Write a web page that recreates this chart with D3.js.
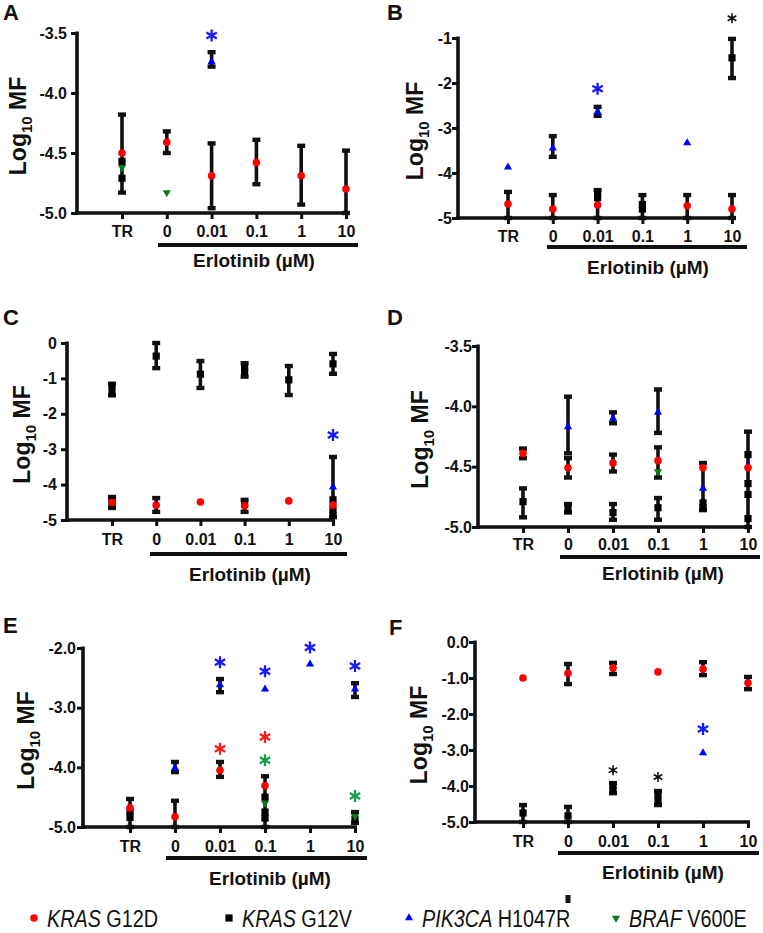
<!DOCTYPE html>
<html><head><meta charset="utf-8">
<script src="https://cdn.jsdelivr.net/npm/d3@7"></script>
<style>
body{margin:0;background:#fff}
svg{display:block}
text{font-family:"Liberation Sans",Arial,Helvetica,sans-serif}
</style>
</head><body>
<svg id="chart" width="763" height="933"></svg>
<script>
// ---------------- data ----------------
const categories = ["TR", "0", "0.01", "0.1", "1", "10"];
const seriesKeys = ["G12D", "G12V", "PIK3CA", "BRAF"];
const seriesGene = ["KRAS", "KRAS", "PIK3CA", "BRAF"];
const seriesMut = [" G12D", " G12V", " H1047R", " V600E"];
const seriesColors = {G12D: "#ff0000", G12V: "#000000", PIK3CA: "#0000ff", BRAF: "#0b7a1e"};
const starColors = {G12D: "#ff1a1a", G12V: "#111111", PIK3CA: "#1a1aff", BRAF: "#12a04a"};
const xTitle = "Erlotinib (\u00b5M)";

// Panel A
const yTicksA = [-5, -4.5, -4, -3.5];
const barsA = [["TR", -4.18, -4.83], ["0", -4.32, -4.50], ["0.01", -3.66, -3.78], ["0.01", -4.42, -4.96],
  ["0.1", -4.39, -4.76], ["1", -4.44, -4.93], ["10", -4.48, -5.0]];
const pointsA = [["TR", "G12V", -4.57], ["TR", "G12V", -4.71], ["TR", "BRAF", -4.62], ["TR", "G12D", -4.5],
  ["0", "G12D", -4.41], ["0", "BRAF", -4.83], ["0.01", "PIK3CA", -3.74], ["0.01", "G12D", -4.69],
  ["0.1", "G12D", -4.58], ["1", "G12D", -4.69], ["10", "G12D", -4.8]];
const starsA = [["0.01", "PIK3CA", -3.52]];

// Panel B
const yTicksB = [-5, -4, -3, -2, -1];
const barsB = [["TR", -4.42, -5], ["0", -3.18, -3.64], ["0", -4.49, -5], ["0.01", -2.53, -2.73], ["0.01", -4.38, -5],
  ["0.1", -4.49, -5], ["1", -4.49, -5], ["10", -1.02, -1.89], ["10", -4.49, -5]];
const pointsB = [["TR", "PIK3CA", -3.87], ["TR", "G12D", -4.69], ["0", "PIK3CA", -3.45], ["0", "G12D", -4.8],
  ["0.01", "PIK3CA", -2.64], ["0.01", "G12V", -4.45], ["0.01", "G12V", -4.55], ["0.01", "G12D", -4.71],
  ["0.1", "G12V", -4.7], ["0.1", "G12V", -4.8], ["1", "PIK3CA", -3.33], ["1", "G12D", -4.73],
  ["10", "G12V", -1.44], ["10", "G12D", -4.8]];
const starsB = [["0.01", "PIK3CA", -2.13], ["10", "G12V", -0.56]];

// Panel C
const yTicksC = [-5, -4, -3, -2, -1, 0];
const barsC = [["TR", -1.15, -1.48], ["TR", -4.35, -4.66], ["0", 0, -0.71], ["0", -4.38, -4.77],
  ["0.01", -0.51, -1.27], ["0.1", -0.57, -0.95], ["0.1", -4.43, -4.77], ["1", -0.65, -1.47],
  ["10", -0.31, -0.87], ["10", -3.22, -4.92]];
const pointsC = [["TR", "G12V", -1.22], ["TR", "G12V", -1.4], ["TR", "G12V", -4.45], ["TR", "G12V", -4.56], ["TR", "G12D", -4.5],
  ["0", "G12V", -0.37], ["0", "G12D", -4.58], ["0.01", "G12V", -0.88], ["0.01", "G12D", -4.49],
  ["0.1", "G12V", -0.7], ["0.1", "G12V", -0.82], ["0.1", "G12V", -4.55], ["0.1", "G12D", -4.6],
  ["1", "G12V", -1.04], ["1", "G12D", -4.46], ["10", "G12V", -0.59], ["10", "PIK3CA", -4.07],
  ["10", "G12V", -4.43], ["10", "G12V", -4.72], ["10", "G12V", -4.86], ["10", "G12D", -4.58]];
const starsC = [["10", "PIK3CA", -2.6]];

// Panel D
const yTicksD = [-5, -4.5, -4, -3.5];
const barsD = [["TR", -4.35, -4.43], ["TR", -4.68, -4.92], ["0", -3.92, -4.39], ["0", -4.43, -4.59], ["0", -4.81, -4.88],
  ["0.01", -4.05, -4.14], ["0.01", -4.40, -4.54], ["0.01", -4.81, -4.94], ["0.1", -3.86, -4.22],
  ["0.1", -4.34, -4.59], ["0.1", -4.76, -4.94], ["1", -4.47, -4.86], ["10", -4.21, -5.0]];
const pointsD = [["TR", "G12V", -4.79], ["TR", "G12D", -4.39], ["0", "PIK3CA", -4.17], ["0", "G12V", -4.85],
  ["0", "G12D", -4.51], ["0.01", "PIK3CA", -4.10], ["0.01", "G12V", -4.88], ["0.01", "G12D", -4.47],
  ["0.1", "PIK3CA", -4.05], ["0.1", "G12V", -4.84], ["0.1", "BRAF", -4.54], ["0.1", "G12D", -4.45],
  ["1", "G12V", -4.80], ["1", "G12V", -4.84], ["1", "PIK3CA", -4.68], ["1", "G12D", -4.51],
  ["10", "G12V", -4.4], ["10", "G12V", -4.64], ["10", "G12V", -4.73], ["10", "G12V", -4.93],
  ["10", "PIK3CA", -4.49], ["10", "G12D", -4.51]];
const starsD = [];

// Panel E
const yTicksE = [-5, -4, -3, -2];
const barsE = [["TR", -4.53, -5.0], ["0", -3.91, -4.08], ["0", -4.56, -5.0], ["0.01", -2.52, -2.74],
  ["0.01", -3.91, -4.16], ["0.1", -4.15, -5.0], ["10", -2.59, -2.82], ["10", -4.75, -4.93]];
const pointsE = [["TR", "G12D", -4.68], ["TR", "G12V", -4.74], ["TR", "G12V", -4.84], ["0", "PIK3CA", -4.01],
  ["0", "G12D", -4.83], ["0.01", "PIK3CA", -2.62], ["0.01", "G12D", -4.05], ["0.1", "PIK3CA", -2.69],
  ["0.1", "G12V", -4.5], ["0.1", "G12V", -4.75], ["0.1", "G12V", -4.85], ["0.1", "BRAF", -4.6],
  ["0.1", "G12D", -4.31], ["1", "PIK3CA", -2.27], ["10", "PIK3CA", -2.69], ["10", "G12V", -4.87],
  ["10", "BRAF", -4.82]];
const starsE = [["0.01", "PIK3CA", -2.24], ["0.01", "G12D", -3.69], ["0.1", "PIK3CA", -2.39], ["0.1", "G12D", -3.49],
  ["0.1", "BRAF", -3.88], ["1", "PIK3CA", -1.99], ["10", "PIK3CA", -2.3], ["10", "BRAF", -4.48]];

// Panel F
const yTicksF = [-5, -4, -3, -2, -1, 0];
const barsF = [["TR", -4.53, -5.0], ["0", -0.61, -1.17], ["0", -4.58, -5.0], ["0.01", -0.58, -0.89],
  ["0.01", -3.92, -4.2], ["0.1", -4.14, -4.53], ["1", -0.56, -0.92], ["10", -0.97, -1.31]];
const pointsF = [["TR", "G12D", -1.0], ["TR", "G12V", -4.75], ["0", "G12D", -0.87], ["0", "G12V", -4.83],
  ["0.01", "G12D", -0.72], ["0.01", "G12V", -3.98], ["0.01", "G12V", -4.12], ["0.1", "G12D", -0.83],
  ["0.1", "G12V", -4.24], ["0.1", "G12V", -4.42], ["1", "G12D", -0.75], ["1", "PIK3CA", -3.08], ["10", "G12D", -1.14]];
const starsF = [["0.01", "G12V", -3.56], ["0.1", "G12V", -3.75], ["1", "PIK3CA", -2.42]];
const strayF = [["0", "G12V", -7.14]];

// ---------------- layout ----------------
const panels = [
  {letter: "A", lx: 3, ly: 20, ax: 77, yTop: 33, yBot: 213, domain: [-5, -3.5], ticks: yTicksA, dec: 1, gap: 10,
   x0: 122, x1: 346, labY: 237, ulY: 245, ul: [158, 358], erlX: 254, erlY: 267, tX: 26,
   bars: barsA, points: pointsA, stars: starsA},
  {letter: "B", lx: 387, ly: 20, ax: 458, yTop: 38, yBot: 218, domain: [-5, -1], ticks: yTicksB, dec: 0, gap: 4,
   x0: 508, x1: 732, labY: 242, ulY: 247, ul: [547, 747], erlX: 648, erlY: 274, tX: 423,
   bars: barsB, points: pointsB, stars: starsB},
  {letter: "C", lx: 3, ly: 325, ax: 67, yTop: 343, yBot: 520, domain: [-5, 0], ticks: yTicksC, dec: 0, gap: 10,
   x0: 112, x1: 333, labY: 545, ulY: 554, ul: [150, 347], erlX: 250, erlY: 581, tX: 30,
   bars: barsC, points: pointsC, stars: starsC},
  {letter: "D", lx: 387, ly: 325, ax: 478, yTop: 346, yBot: 527, domain: [-5, -3.5], ticks: yTicksD, dec: 1, gap: 6,
   x0: 523, x1: 748, labY: 550, ulY: 557, ul: [560, 760], erlX: 663, erlY: 580, tX: 428,
   bars: barsD, points: pointsD, stars: starsD},
  {letter: "E", lx: 3, ly: 633, ax: 83, yTop: 648, yBot: 827, domain: [-5, -2], ticks: yTicksE, dec: 1, gap: 7,
   x0: 130, x1: 355, labY: 852, ulY: 858, ul: [166, 367], erlX: 270, erlY: 885, tX: 34,
   bars: barsE, points: pointsE, stars: starsE},
  {letter: "F", lx: 389, ly: 635, ax: 475, yTop: 642, yBot: 822, domain: [-5, 0], ticks: yTicksF, dec: 1, gap: 5,
   x0: 523, x1: 748, labY: 847, ulY: 853, ul: [558, 759], erlX: 663, erlY: 879, tX: 427,
   bars: barsF, points: pointsF, stars: starsF, stray: strayF}
];

const svg = d3.select("#chart");
const INK = "#111";

function starPath(r) {
  const c = r * Math.cos(Math.PI / 6), s = r * Math.sin(Math.PI / 6);
  return `M0,${-r}L0,${r}M${-c},${-s}L${c},${s}M${-c},${s}L${c},${-s}`;
}
const triUp = d3.symbol().type(d3.symbolTriangle).size(29)();

function drawMarker(sel, key) {
  if (key === "G12D") sel.append("circle").attr("r", 3.8).attr("fill", seriesColors.G12D);
  else if (key === "G12V") sel.append("rect").attr("x", -3.6).attr("y", -3.6).attr("width", 7.2).attr("height", 7.2).attr("fill", seriesColors.G12V);
  else if (key === "PIK3CA") sel.append("path").attr("d", triUp).attr("fill", seriesColors.PIK3CA);
  else sel.append("path").attr("d", triUp).attr("transform", "rotate(180)").attr("fill", seriesColors.BRAF);
}

panels.forEach(P => {
  const g = svg.append("g");
  const y = d3.scaleLinear().domain(P.domain).range([P.yBot, P.yTop]);
  const x = d3.scalePoint().domain(categories).range([P.x0, P.x1]);

  // panel letter
  g.append("text").attr("x", P.lx).attr("y", P.ly).attr("font-size", 22).attr("font-weight", "bold")
    .attr("fill", INK).text(P.letter);

  // y axis
  const yAxis = d3.axisLeft(y).tickValues(P.ticks).tickSize(6).tickSizeOuter(0)
    .tickFormat(v => P.dec ? v.toFixed(P.dec) : String(v));
  const ya = g.append("g").attr("transform", `translate(${P.ax},0)`).call(yAxis);
  ya.select(".domain").remove();
  ya.selectAll(".tick line").attr("stroke", INK).attr("stroke-width", 3);
  ya.selectAll(".tick text").attr("font-size", 16).attr("font-weight", "bold").attr("fill", INK)
    .attr("font-family", "Liberation Sans, Arial, sans-serif")
    .attr("x", -(Math.max(P.gap, 6)));
  g.append("line").attr("x1", P.ax).attr("x2", P.ax).attr("y1", P.yTop - 1.5).attr("y2", P.yBot + 2)
    .attr("stroke", INK).attr("stroke-width", 3.6);

  // x axis
  const xAxis = d3.axisBottom(x).tickSize(6).tickSizeOuter(0);
  const xa = g.append("g").attr("transform", `translate(0,${P.yBot})`).call(xAxis);
  xa.select(".domain").remove();
  xa.selectAll(".tick line").attr("stroke", INK).attr("stroke-width", 3);
  xa.selectAll(".tick text").attr("font-size", 16).attr("font-weight", "bold").attr("fill", INK)
    .attr("font-family", "Liberation Sans, Arial, sans-serif")
    .attr("dy", null).attr("y", P.labY - P.yBot);
  g.append("line").attr("x1", P.ax - 1.8).attr("x2", P.x1 + 2).attr("y1", P.yBot).attr("y2", P.yBot)
    .attr("stroke", INK).attr("stroke-width", 3.6);

  // underline + title
  g.append("line").attr("x1", P.ul[0]).attr("x2", P.ul[1]).attr("y1", P.ulY).attr("y2", P.ulY)
    .attr("stroke", INK).attr("stroke-width", 4.2);
  g.append("text").attr("x", P.erlX).attr("y", P.erlY).attr("text-anchor", "middle")
    .attr("font-size", 19).attr("font-weight", "bold").attr("fill", INK).text(xTitle);

  // y title
  const cy = (P.yTop + P.yBot) / 2 + 3;
  const yt = g.append("text").attr("transform", `translate(${P.tX},${cy}) rotate(-90)`)
    .attr("text-anchor", "middle").attr("font-size", 23).attr("font-weight", "bold").attr("fill", INK);
  yt.append("tspan").text("Log");
  yt.append("tspan").attr("font-size", 15).attr("dy", 6).text("10");
  yt.append("tspan").attr("dy", -6).text(" MF");

  // error bars
  const eb = g.append("g");
  P.bars.forEach(([c, hi, lo]) => {
    const cx = x(c);
    eb.append("line").attr("x1", cx).attr("x2", cx).attr("y1", y(hi)).attr("y2", y(lo))
      .attr("stroke", INK).attr("stroke-width", 3.6);
    [hi, lo].forEach(v => eb.append("rect").attr("x", cx - 4).attr("y", y(v) - 2.2).attr("width", 8).attr("height", 4.4).attr("fill", INK));
  });

  // points: draw by series order
  ["G12V", "BRAF", "PIK3CA", "G12D"].forEach(key => {
    P.points.filter(p => p[1] === key).forEach(([c, k, v]) => {
      const m = g.append("g").attr("transform", `translate(${x(c)},${y(v)})`);
      drawMarker(m, k);
    });
  });

  // stray clipped point
  (P.stray || []).forEach(([c, k, v]) => {
    g.append("rect").attr("x", x(c) - 2.5).attr("y", y(v) - 4).attr("width", 5).attr("height", 8).attr("fill", INK);
  });

  // significance stars
  P.stars.forEach(([c, k, v]) => {
    const black = k === "G12V";
    g.append("path").attr("d", starPath(black ? 5 : 6))
      .attr("transform", `translate(${x(c)},${y(v)})`)
      .attr("stroke", starColors[k]).attr("stroke-width", black ? 1.6 : 2.3).attr("fill", "none");
  });
});

// legend
const legendX = [34, 229, 409, 616];
const legendY = 918;
const lg = svg.append("g");
seriesKeys.forEach((k, i) => {
  const m = lg.append("g").attr("transform", `translate(${legendX[i]},${legendY})`);
  drawMarker(m, k);
  const t = lg.append("text").attr("transform", `translate(${legendX[i] + 13},${legendY + 8.5}) scale(0.86,1)`)
    .attr("font-size", 23).attr("fill", INK);
  t.append("tspan").attr("font-style", "italic").text(seriesGene[i]);
  t.append("tspan").text(seriesMut[i]);
});
</script>
</body></html>
